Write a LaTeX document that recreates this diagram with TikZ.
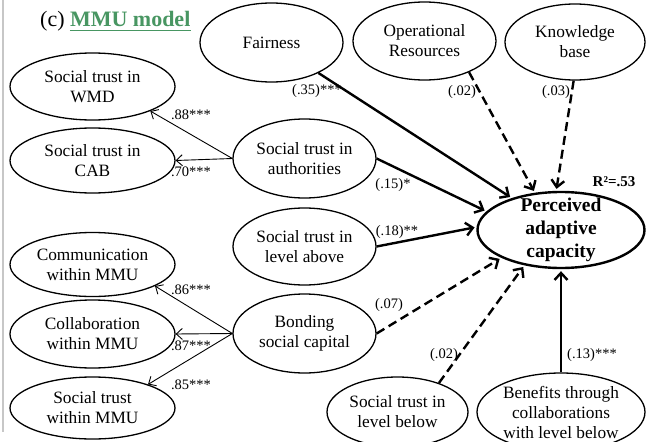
\documentclass[tikz,border=0pt]{standalone}
\usepackage{fontspec}
\setmainfont{Liberation Serif}
\usetikzlibrary{shapes.geometric,arrows.meta}
\definecolor{titlegreen}{RGB}{72,150,98}
\begin{document}
\begin{tikzpicture}[x=1pt,y=-1pt,
  lat/.style={draw, ellipse, line width=1.3pt, inner xsep=0pt, inner ysep=-10pt, align=center, font=\fontsize{17.3}{20}\selectfont},
  thinarrow/.style={line width=0.9pt, -{Straight Barb[length=6pt,width=11pt]}},
  thickarrow/.style={line width=2.4pt, -{Straight Barb[length=7pt,width=13pt]}, shorten >=2pt},
  dasharrow/.style={thickarrow, dash pattern=on 9pt off 5pt},
  lab/.style={font=\fontsize{14.5}{16}\selectfont, inner sep=0pt},
]
\useasboundingbox (0,0) rectangle (646,442);
\clip (0,0) rectangle (646,442);
\fill[white] (0,0) rectangle (646,442);
\draw[black!22, line width=1.5pt] (3,0) -- (3,432);

% title
\node[anchor=base west, inner sep=0pt, font=\fontsize{22}{24}\selectfont] (tc) at (40,26) {(c)};
\node[anchor=base west, inner sep=0pt, font=\fontsize{22}{24}\selectfont\bfseries, text=titlegreen] (mmu) at ([xshift=5pt]tc.base east) {MMU model};
\draw[titlegreen, line width=1.4pt] ([yshift=-4.5pt]mmu.base west) -- ([yshift=-4.5pt]mmu.base east);

% latent variables
\node[lat, minimum width=165pt, minimum height=67pt] (wmd) at (92.5,86.5) {Social trust in\\WMD};
\node[lat, minimum width=165pt, minimum height=65pt] (cab) at (92.5,160.5) {Social trust in\\CAB};
\node[lat, minimum width=143pt, minimum height=79pt] (fair) at (271.5,42.5) {Fairness};
\node[lat, minimum width=143pt, minimum height=78pt] (op) at (424.5,41) {Operational\\Resources};
\node[lat, minimum width=140pt, minimum height=76pt] (kb) at (575,42) {Knowledge\\base};
\node[lat, minimum width=143pt, minimum height=79pt] (auth) at (304.5,158.5) {Social trust in\\authorities};
\node[lat, minimum width=143pt, minimum height=77pt] (above) at (304.5,246.5) {Social trust in\\level above};
\node[lat, minimum width=143pt, minimum height=79pt] (bond) at (304.5,333.5) {Bonding\\social capital};
\node[lat, minimum width=165pt, minimum height=64pt] (comm) at (92.5,264.5) {Communication\\within MMU};
\node[lat, minimum width=165pt, minimum height=68pt] (coll) at (92.5,334) {Collaboration\\within MMU};
\node[lat, minimum width=165pt, minimum height=62pt] (stm) at (92.5,408) {Social trust\\within MMU};
\node[lat, line width=2.4pt, minimum width=167pt, minimum height=76pt, font=\fontsize{19.5}{23}\selectfont\bfseries] (pac) at (561,230) {Perceived\\adaptive\\capacity};
\node[lat, minimum width=141pt, minimum height=70pt] (below) at (397.5,412) {Social trust in\\level below};
\node[lat, minimum width=168pt, minimum height=78pt] (ben) at (561,412) {Benefits through\\collaborations\\with level below};

% measurement arrows
\draw[thinarrow] (auth.west) -- (wmd.-23);
\draw[thinarrow] (auth.west) -- (cab.east);
\draw[thinarrow] (bond.west) -- (comm.-19);
\draw[thinarrow] (bond.west) -- (coll.east);
\draw[thinarrow] (bond.west) -- (stm.23);

% structural arrows
\draw[thickarrow] (fair.-33) -- (pac.147);
\draw[dasharrow] (op.-35) -- (pac.125);
\draw[dasharrow] (kb.-92) -- (pac.97);
\draw[thickarrow] (auth.east) -- (pac.166);
\draw[thickarrow] (above.east) -- (pac.178);
\draw[dasharrow] (bond.east) -- (pac.205);
\draw[dasharrow] (below.35) -- (pac.224);
\draw[thickarrow] (ben.north) -- (pac.south);

% labels
\node[lab] (l88) at (191,115) {.88***};
\node[lab] (l70) at (191,172) {.70***};
\node[lab] (l86) at (191,290) {.86***};
\node[lab] (l87) at (191,346) {.87***};
\node[lab] (l85) at (191,385) {.85***};
\node[lab] (l35) at (317,91) {(.35)***};
\node[lab] (l02a) at (462,92) {(.02)};
\node[lab] (l03) at (556,92) {(.03)};
\node[lab] (l15) at (393,185) {(.15)*};
\node[lab] (l18) at (397,232) {(.18)**};
\node[lab] (l07) at (389,305) {(.07)};
\node[lab] (l02b) at (444,355) {(.02)};
\node[lab] (l13) at (592,355) {(.13)***};
\node[lab, font=\fontsize{15}{16}\selectfont\bfseries] (r2) at (614,182) {R²=.53};
\end{tikzpicture}
\end{document}
